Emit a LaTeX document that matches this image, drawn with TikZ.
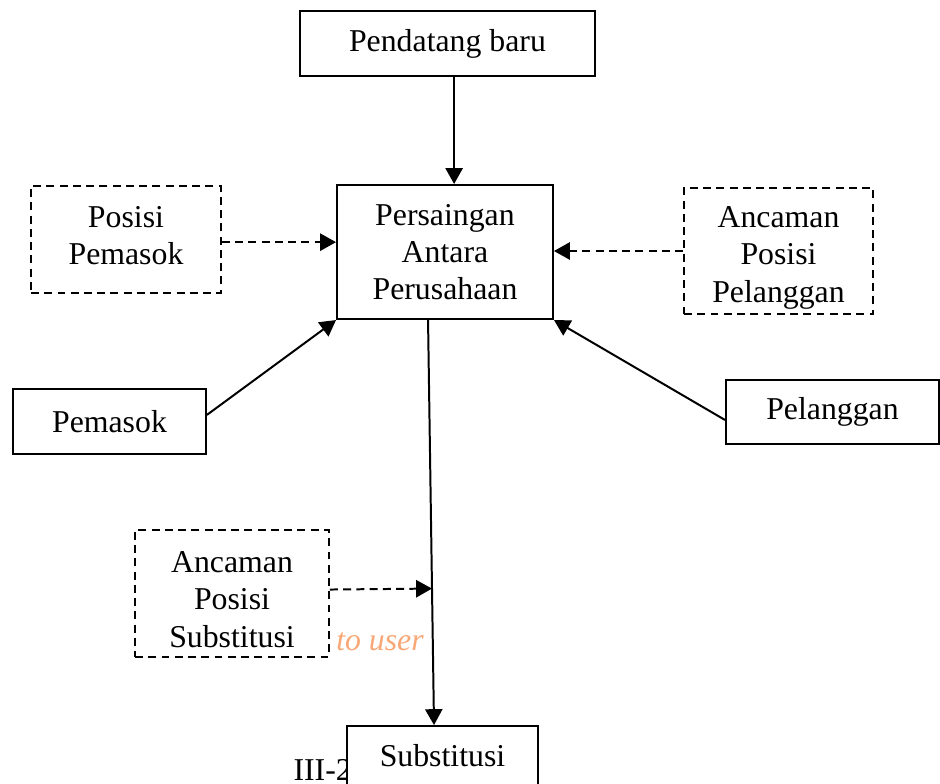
\documentclass[tikz,border=0pt]{standalone}
\usepackage{fontspec}
\setmainfont{Liberation Serif}
\usetikzlibrary{arrows.meta, calc}

\definecolor{userorange}{RGB}{248,168,118}

\begin{document}
\begin{tikzpicture}[x=0.3774pt, y=-0.3774pt,
    teks/.style={inner sep=0pt, align=center, font=\fontsize{12pt}{14pt}\selectfont},
    box/.style={teks, draw, line width=0.75pt, fill=white},
    dashbox/.style={box, dash pattern=on 3pt off 2pt},
    arr/.style={line width=0.75pt, -{Triangle[length=6pt, width=6.5pt]}},
    dasharr/.style={arr, dash pattern=on 3pt off 2pt}]
    \useasboundingbox (0,0) rectangle (940,783);

    % Boxes
    \node[box, minimum width=111.3pt, minimum height=24.5pt] (pendatang) at (447.5,43.5) {Pendatang baru};
    \node[box, minimum width=81.5pt, minimum height=50.6pt] (persaingan) at (445,252) {Persaingan\\Antara\\Perusahaan};
    \node[dashbox, minimum width=71.7pt, minimum height=40.4pt,
        label={[teks, yshift=1.5pt]center:Posisi\\Pemasok}] (posisipemasok) at (126,239.5) {};
    \node[dashbox, minimum width=71.3pt, minimum height=47.6pt,
        label={[teks, yshift=-2.6pt]center:Ancaman\\Posisi\\Pelanggan}] (ancamanpelanggan) at (778.5,251) {};
    \node[box, minimum width=72.8pt, minimum height=24.5pt] (pemasok) at (109.5,421.5) {Pemasok};
    \node[box, minimum width=80.4pt, minimum height=24.2pt] (pelanggan) at (832.5,412) {Pelanggan};
    \node[dashbox, minimum width=73.2pt, minimum height=47.9pt,
        label={[teks, yshift=-2.3pt]center:Ancaman\\Posisi\\Substitusi}] (ancamansubstitusi) at (232,593.5) {};

    % Page text
    \node[teks, anchor=west] (halaman) at (293,770) {III-2};
    \node[teks, text=userorange, font=\fontsize{12pt}{14pt}\selectfont\itshape] (touser) at (380,642) {to user};

    \node[box, minimum width=72pt, minimum height=22.6pt] (substitusi) at (442.5,756) {Substitusi};

    % Arrows
    \draw[arr] ([xshift=2.5pt]pendatang.south) -- ([xshift=2.5pt]pendatang.south |- persaingan.north);
    \draw[dasharr] ([yshift=-1pt]posisipemasok.east) -- ([yshift=-1pt]posisipemasok.east -| persaingan.west);
    \draw[dasharr] (ancamanpelanggan.west) -- (ancamanpelanggan.west -| persaingan.east);
    \draw[arr] ([yshift=2.5pt]pemasok.east) -- (persaingan.south west);
    \draw[arr] ([yshift=-3pt]pelanggan.west) -- (persaingan.south east);

    \coordinate (atas) at ([xshift=-6.4pt]persaingan.south);
    \coordinate (bawah) at ([xshift=-3.2pt]substitusi.north);
    \coordinate (masuk) at ($(atas)!0.663!(bawah)$);
    \draw[arr] (atas) -- (bawah);
    \draw[dasharr] ([yshift=1.5pt]ancamansubstitusi.east) -- (masuk);
\end{tikzpicture}
\end{document}
